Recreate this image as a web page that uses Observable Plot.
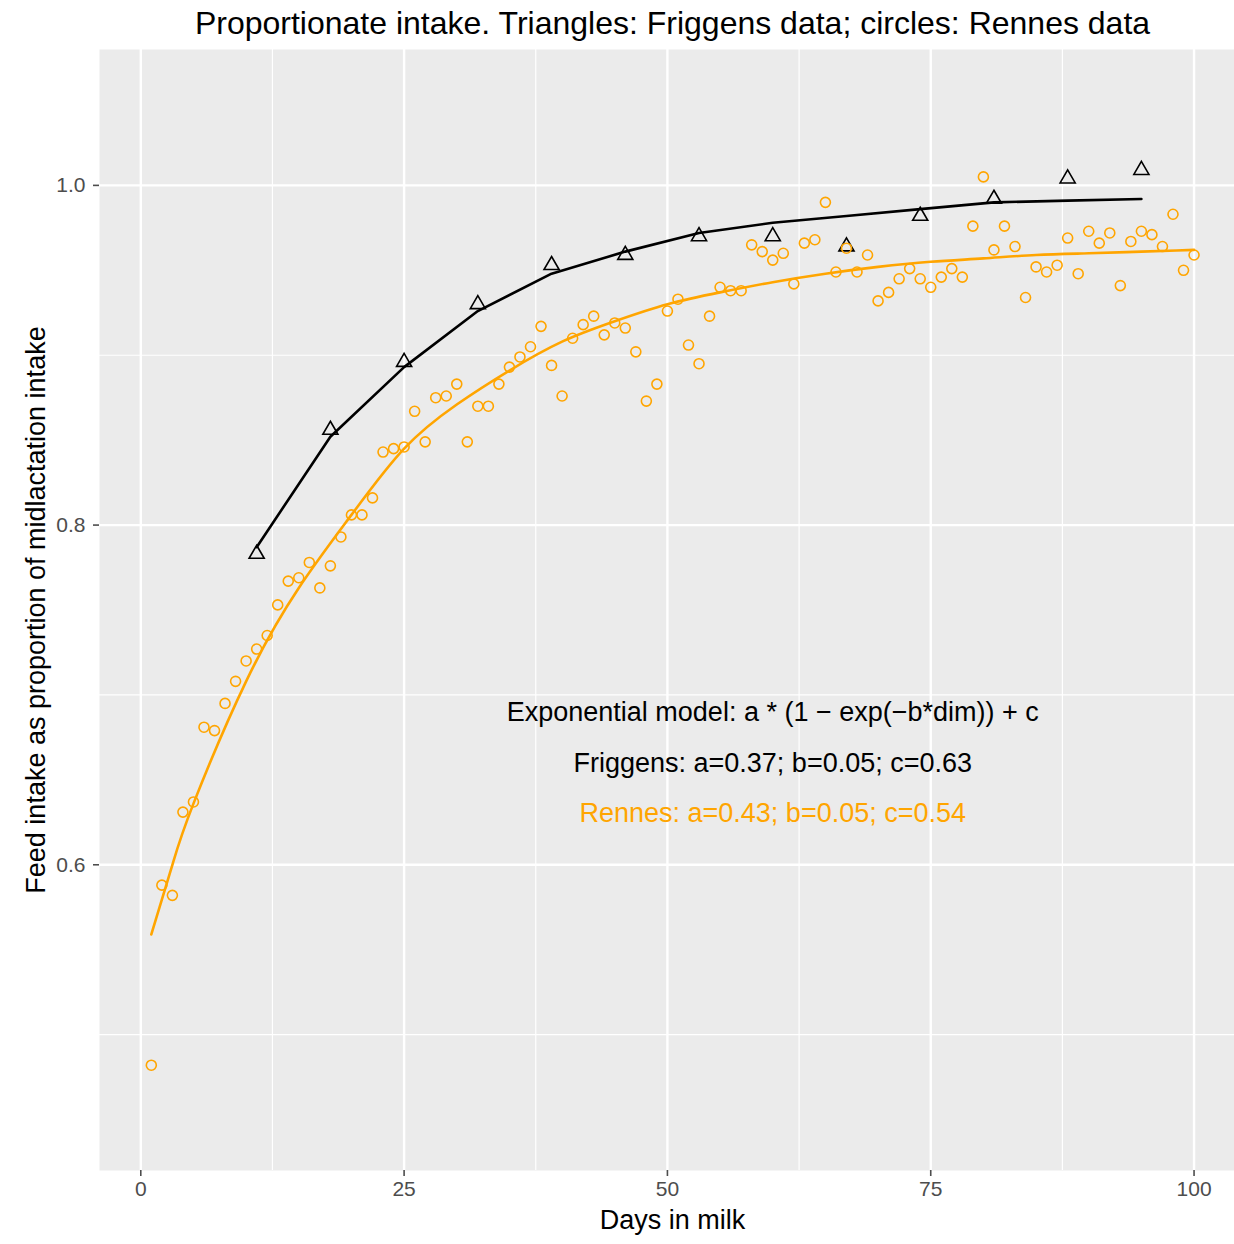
<!DOCTYPE html>
<html>
<head>
<meta charset="utf-8">
<script src="https://cdn.jsdelivr.net/npm/d3@7"></script>
<script src="https://cdn.jsdelivr.net/npm/@observablehq/plot@0.6"></script>
<style>
  html, body { margin: 0; padding: 0; background: #ffffff; overflow: hidden; }
</style>
</head>
<body>
<div id="chart"></div>
<script>
// ---- Data ----
const rennesDays = [1,2,3,4,5,6,7,8,9,10,11,12,13,14,15,16,17,18,19,20,21,22,23,24,25,26,27,28,29,30,31,32,33,34,35,36,37,38,39,40,41,42,43,44,45,46,47,48,49,50,51,52,53,54,55,56,57,58,59,60,61,62,63,64,65,66,67,68,69,70,71,72,73,74,75,76,77,78,79,80,81,82,83,84,85,86,87,88,89,90,91,92,93,94,95,96,97,98,99,100];
const rennesIntake = [
  0.482,0.588,0.582,0.631,0.637,0.681,0.679,0.695,0.708,0.720,
  0.727,0.735,0.753,0.767,0.769,0.778,0.763,0.776,0.793,0.806,
  0.806,0.816,0.843,0.845,0.846,0.867,0.849,0.875,0.876,0.883,
  0.849,0.870,0.870,0.883,0.893,0.899,0.905,0.917,0.894,0.876,
  0.910,0.918,0.923,0.912,0.919,0.916,0.902,0.873,0.883,0.926,
  0.933,0.906,0.895,0.923,0.940,0.938,0.938,0.965,0.961,0.956,
  0.960,0.942,0.966,0.968,0.990,0.949,0.963,0.949,0.959,0.932,
  0.937,0.945,0.951,0.945,0.940,0.946,0.951,0.946,0.976,1.005,
  0.962,0.976,0.964,0.934,0.952,0.949,0.953,0.969,0.948,0.973,
  0.966,0.972,0.941,0.967,0.973,0.971,0.964,0.983,0.950,0.959
];
const rennesFitDays = [1,3,5,10,15,20,25,30,35,40,45,50,55,60,65,70,75,80,85,90,95,100];
const rennesFit = [0.559,0.600,0.636,0.708,0.763,0.806,0.845,0.871,0.891,0.908,0.920,0.930,0.937,0.943,0.948,0.952,0.955,0.957,0.959,0.960,0.961,0.962];

const friggensDays = [11,18,25,32,39,46,53,60,67,74,81,88,95];
const friggensIntake = [0.783,0.856,0.896,0.930,0.953,0.959,0.970,0.970,0.964,0.982,0.992,1.004,1.009];
const friggensFit = [0.787,0.852,0.893,0.926,0.948,0.961,0.972,0.978,0.982,0.986,0.990,0.991,0.992];

const xTicks = [0,25,50,75,100];
const xMinor = [12.5,37.5,62.5,87.5];
const yTicks = [0.6,0.8,1.0];
const yMinor = [0.5,0.7,0.9];

const titleText = "Proportionate intake. Triangles: Friggens data; circles: Rennes data";
const xLabel = "Days in milk";
const yLabel = "Feed intake as proportion of midlactation intake";
const annotLabels = ["Exponential model: a * (1 \u2212 exp(\u2212b*dim)) + c", "Friggens: a=0.37; b=0.05; c=0.63", "Rennes: a=0.43; b=0.05; c=0.54"];
const annotX = [60, 60, 60];
const annotY = [0.69, 0.66, 0.63];
const annotColors = ["black", "black", "orange"];

// ---- Tables built from the arrays ----
const rennes = rennesDays.map((d, i) => ({day: d, v: rennesIntake[i]}));
const rennesLine = rennesFitDays.map((d, i) => ({day: d, v: rennesFit[i]}));
const friggens = friggensDays.map((d, i) => ({day: d, v: friggensIntake[i]}));
const friggensLine = friggensDays.map((d, i) => ({day: d, v: friggensFit[i]}));
const annots = annotLabels.map((t, i) => ({label: t, x: annotX[i], y: annotY[i], color: annotColors[i]}));

const chart = Plot.plot({
  width: 1234,
  height: 1244,
  marginLeft: 99,
  marginRight: 0,
  marginTop: 49,
  marginBottom: 74,
  style: {fontFamily: "'Liberation Sans', Arial, sans-serif", fontSize: "21px", background: "#ffffff", overflow: "visible"},
  x: {domain: [-3.92, 103.84], axis: null},
  y: {domain: [0.42, 1.08], axis: null},
  marks: [
    Plot.frame({fill: "#EBEBEB", stroke: null}),
    Plot.gridX(xMinor, {stroke: "#ffffff", strokeOpacity: 1, strokeWidth: 1.2}),
    Plot.gridY(yMinor, {stroke: "#ffffff", strokeOpacity: 1, strokeWidth: 1.2}),
    Plot.gridX(xTicks, {stroke: "#ffffff", strokeOpacity: 1, strokeWidth: 2.4}),
    Plot.gridY(yTicks, {stroke: "#ffffff", strokeOpacity: 1, strokeWidth: 2.4}),
    Plot.axisX(xTicks, {tickSize: 6, tickPadding: 5, fontSize: 21, color: "#4D4D4D", strokeWidth: 1.6, label: null, tickFormat: d => String(d)}),
    Plot.axisY(yTicks, {tickSize: 6, tickPadding: 8, fontSize: 21, color: "#4D4D4D", strokeWidth: 1.6, label: null, tickFormat: d => d.toFixed(1)}),
    Plot.line(friggensLine, {x: "day", y: "v", stroke: "black", strokeWidth: 2.6}),
    Plot.line(rennesLine, {x: "day", y: "v", stroke: "orange", strokeWidth: 2.6, curve: "natural"}),
    Plot.dot(friggens, {x: "day", y: "v", symbol: "triangle", r: 5.6, stroke: "black", strokeWidth: 1.6, fill: "none"}),
    Plot.dot(rennes, {x: "day", y: "v", r: 5, stroke: "orange", strokeWidth: 1.6, fill: "none"}),
    Plot.text(annots.filter(d => d.color === "black"), {x: "x", y: "y", text: "label", fill: "black", fontSize: 27}),
    Plot.text(annots.filter(d => d.color === "orange"), {x: "x", y: "y", text: "label", fill: "orange", fontSize: 27}),
    Plot.text([titleText], {frameAnchor: "top", lineAnchor: "middle", textAnchor: "middle", dy: -26, dx: 5.5, fontSize: 32, fill: "black"}),
    Plot.text([xLabel], {frameAnchor: "bottom", lineAnchor: "middle", textAnchor: "middle", dy: 50, dx: 5.5, fontSize: 27, fill: "black"}),
    Plot.text([yLabel], {frameAnchor: "left", lineAnchor: "middle", textAnchor: "middle", dx: -63, rotate: -90, fontSize: 27, fill: "black"})
  ]
});
document.getElementById("chart").appendChild(chart);
</script>
</body>
</html>
